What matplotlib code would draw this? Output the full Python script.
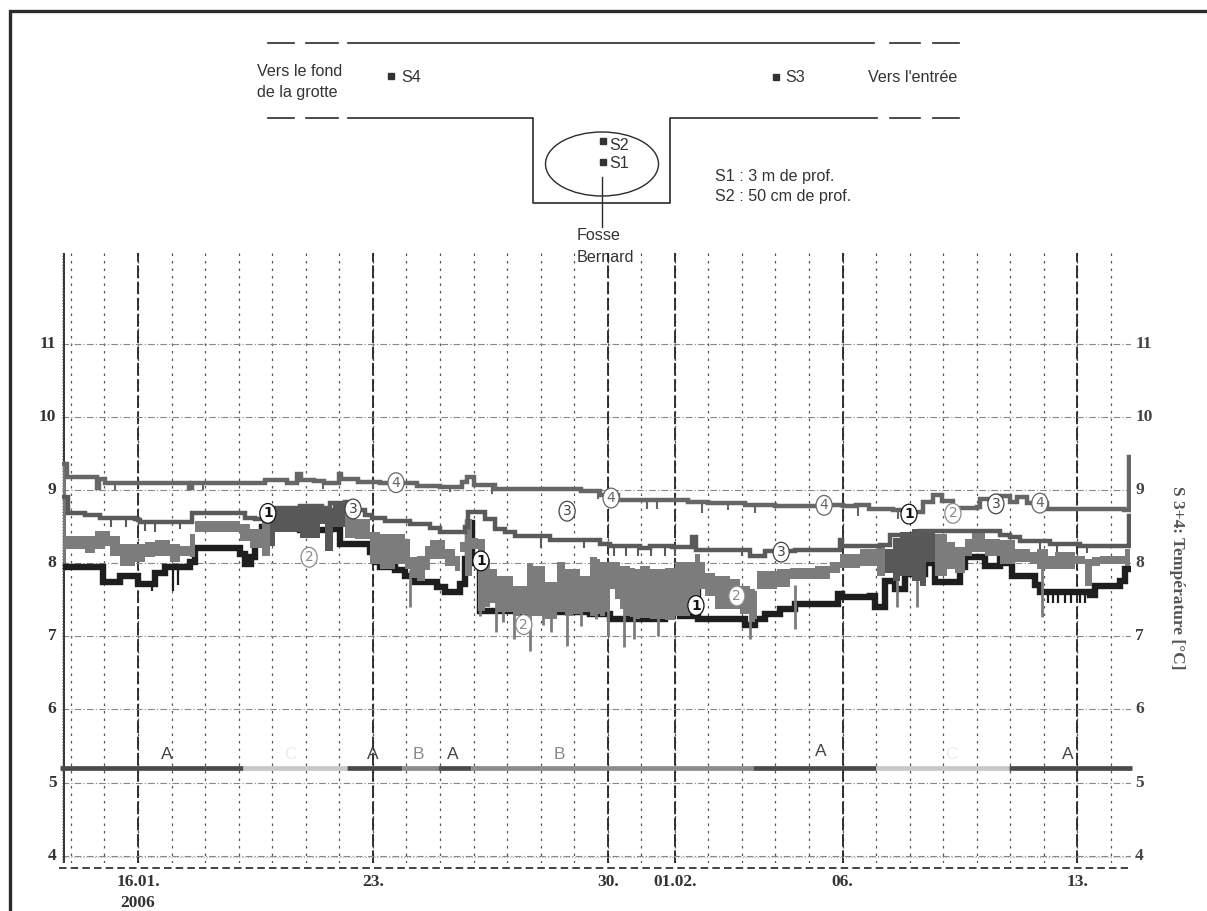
import numpy as np
import matplotlib
matplotlib.use('Agg')
import matplotlib.pyplot as plt
from matplotlib.patches import Ellipse, Rectangle

# days counted from 16.01.2006
t1 = [-2.15, -1.05, -1.04, -0.54, 0.0, 0.51, 0.8, 1.55, 1.7, 3.04, 3.19, 3.37, 3.49, 3.7, 4.83, 5.72, 6.02, 6.91, 7.06, 7.21,
      7.66, 7.96, 8.26, 8.91, 9.15, 9.6, 9.75, 9.84, 9.96, 10.19, 11.39, 12.28, 13.47, 14.07, 15.71, 16.16, 16.55, 16.7, 18.09,
      18.39, 18.69, 19.14, 19.58, 20.86, 20.98, 21.82, 21.97, 22.26, 22.56, 22.86, 23.46, 23.76, 24.5, 24.65, 25.25, 25.69,
      25.84, 26.05, 26.74, 26.88, 28.38, 28.52, 29.27, 29.42, 29.57]
v1 = [7.95, 7.86, 7.74, 7.83, 7.72, 7.86, 7.95, 8.02, 8.2, 8.13, 7.99, 8.08, 8.3, 8.5, 8.45, 8.47, 8.26, 8.15, 8.01, 7.95,
      7.9, 7.83, 7.74, 7.67, 7.6, 7.72, 8.05, 8.55, 8.0, 7.35, 7.33, 7.33, 7.3, 7.23, 7.38, 7.28, 7.7, 7.23, 7.15,
      7.23, 7.3, 7.37, 7.44, 7.58, 7.53, 7.55, 7.4, 7.75, 7.65, 7.85, 8.0, 7.74, 7.95, 8.08, 7.96, 8.08,
      8.0, 7.83, 7.7, 7.6, 7.57, 7.69, 7.75, 7.92, 7.92]
dips1_t = [0.42, 1.05, 1.2, 27.12, 27.27, 27.42, 27.63, 27.81, 28.08, 28.23]
dips1_lo = [7.62, 7.62, 7.7, 7.46, 7.46, 7.46, 7.46, 7.46, 7.46, 7.46]

t2 = [-2.2, -1.58, -1.28, -0.98, -0.83, -0.54, -0.09, 0.21, 0.51, 0.95, 1.25, 1.55, 1.7, 3.04, 3.34, 3.7, 3.93, 4.08, 4.83,
      5.13, 5.42, 5.57, 5.81, 6.17, 6.47, 6.91, 7.21, 7.66, 7.96, 8.11, 8.32, 8.55, 8.7, 9.15, 9.45, 9.6, 9.75, 9.96, 10.13,
      10.34, 10.49, 10.7, 10.94, 11.18, 11.39, 11.59, 11.77, 12.13, 12.49, 12.73, 12.97, 13.17, 13.47, 13.68, 13.77, 13.92,
      14.07, 14.22, 14.37, 14.52, 14.66, 14.81, 14.96, 15.26, 15.71, 16.01, 16.31, 16.45, 16.6, 16.75, 16.9, 17.2, 17.65,
      17.94, 18.24, 18.39, 18.45, 19.05, 19.43, 20.18, 20.63, 20.92, 21.52, 22.03, 22.26, 22.5, 22.71, 23.07, 23.31, 23.49,
      23.76, 24.11, 24.35, 24.65, 24.86, 25.25, 25.69, 26.14, 26.59, 26.8, 27.03, 27.12, 27.33, 27.93, 28.23, 28.44, 28.67,
      29.42, 29.57]
hi2 = [8.37, 8.37, 8.44, 8.44, 8.37, 8.26, 8.26, 8.29, 8.31, 8.26, 8.24, 8.40, 8.58, 8.53, 8.47, 8.58, 8.70, 8.77, 8.79,
       8.76, 8.74, 8.76, 8.85, 8.85, 8.60, 8.42, 8.40, 8.40, 8.33, 8.08, 8.10, 8.24, 8.31, 8.19, 8.10, 8.29, 8.60, 8.35, 8.33,
       8.05, 7.92, 7.83, 7.83, 7.69, 7.69, 7.99, 7.96, 7.74, 8.01, 7.92, 7.92, 7.83, 8.08, 8.05, 8.01, 8.01,
       8.01, 8.01, 7.96, 7.96, 7.94, 7.92, 7.96, 7.92, 7.94, 8.01, 8.01, 8.01, 8.12, 8.01, 7.87, 7.83, 7.78,
       7.69, 7.64, 7.62, 7.89, 7.92, 7.94, 7.96, 8.01, 8.12, 8.19, 8.24, 8.19, 8.35, 8.42, 8.47, 8.47, 8.47,
       8.40, 8.29, 8.22, 8.33, 8.42, 8.33, 8.31, 8.19, 8.15, 8.19, 8.19, 8.10, 8.15, 8.10, 8.05, 8.08, 8.10,
       8.19, 8.19]
lo2 = [8.19, 8.14, 8.19, 8.24, 8.10, 7.96, 8.01, 8.08, 8.10, 8.01, 8.10, 8.08, 8.42, 8.30, 8.20, 8.10, 8.24, 8.42, 8.35,
       8.35, 8.53, 8.17, 8.50, 8.35, 8.33, 7.99, 7.92, 7.99, 7.92, 7.80, 7.75, 7.90, 8.05, 7.96, 7.89, 8.15, 7.83, 8.19, 7.34,
       7.40, 7.45, 7.33, 7.33, 7.28, 7.30, 7.28, 7.28, 7.24, 7.33, 7.28, 7.30, 7.33, 7.28, 7.30, 7.28, 7.33,
       7.64, 7.51, 7.37, 7.28, 7.26, 7.24, 7.25, 7.24, 7.22, 7.28, 7.28, 7.30, 7.55, 7.64, 7.55, 7.37, 7.37,
       7.30, 7.20, 7.24, 7.64, 7.67, 7.78, 7.78, 7.87, 7.94, 7.96, 7.83, 7.87, 7.75, 7.83, 7.75, 7.69, 8.01,
       7.83, 7.92, 7.87, 8.10, 8.15, 8.10, 7.99, 8.01, 7.99, 7.92, 7.92, 7.92, 7.92, 7.99, 7.69, 7.96, 7.99,
       7.96, 7.96]
# narrow downward spikes of curve 2
dips2_t = [8.11, 10.19, 10.67, 10.88, 11.21, 11.68, 12.07, 12.31, 12.79, 13.2, 13.65, 14.0, 14.49, 14.78, 15.5, 18.24, 19.58,
           22.62, 23.22, 26.94]
dips2_lo = [7.40, 7.28, 7.06, 7.19, 6.96, 6.80, 7.16, 7.06, 6.87, 7.14, 7.23, 7.0, 6.85, 6.96, 7.0, 6.96, 7.10,
            7.40, 7.40, 7.26]
dips2_hi = [7.9, 7.6, 7.6, 7.6, 7.5, 7.5, 7.5, 7.5, 7.6, 7.5, 7.5, 7.5, 7.5, 7.5, 7.5, 7.5, 7.7,
            8.0, 8.0, 8.1]

t3 = [-2.2, -2.09, -1.58, -1.13, -0.09, 0.0, 0.06, 1.61, 3.19, 3.49, 3.84, 4.08, 4.83, 5.48, 5.72, 6.17, 6.41, 6.77, 6.97,
      7.36, 8.11, 8.7, 9.0, 9.75, 9.84, 10.34, 10.64, 10.94, 11.24, 12.28, 13.77, 14.07, 14.66, 14.96, 15.26, 15.92, 16.45,
      16.51, 16.63, 18.24, 18.69, 19.58, 20.92, 20.98, 22.12, 22.41, 23.31, 25.69, 25.99, 26.29, 27.18, 28.08, 29.5, 29.55]
v3 = [8.9, 8.68, 8.66, 8.62, 8.61, 8.59, 8.56, 8.68, 8.62, 8.6, 8.62, 8.76, 8.78, 8.76, 8.82, 8.84, 8.72, 8.66, 8.62,
      8.58, 8.53, 8.48, 8.43, 8.5, 8.70, 8.6, 8.47, 8.43, 8.37, 8.31, 8.26, 8.24, 8.24, 8.2, 8.24, 8.22, 8.22,
      8.36, 8.18, 8.10, 8.16, 8.18, 8.32, 8.24, 8.25, 8.38, 8.44, 8.38, 8.36, 8.3, 8.26, 8.24, 8.24, 8.65]
dips3_t = [-0.8, -0.35, 0.2, 0.5, 1.25, 12.0, 13.3, 14.2, 14.55, 14.9, 15.3, 15.7, 16.0, 18.0, 24.9, 26.9, 27.4, 28.3]
dips3_lo = [8.5, 8.5, 8.44, 8.42, 8.46, 8.2, 8.2, 8.1, 8.1, 8.1, 8.1, 8.1, 8.1, 8.1, 8.25, 8.12, 8.14, 8.14]

t4 = [-2.2, -2.12, -1.22, -1.15, -0.98, 1.52, 1.6, 3.79, 4.0, 4.45, 4.75, 4.85, 5.25, 5.55, 5.99, 6.05, 6.55, 7.2, 8.32,
      9.0, 9.66, 9.8, 10.0, 10.64, 11.4, 13.2, 13.77, 14.3, 16.4, 17.0, 18.1, 19.0, 20.5, 21.0, 21.4, 21.8, 22.5, 22.9,
      23.4, 23.7, 23.95, 24.3, 25.0, 25.1, 25.65, 26.0, 26.2, 26.5, 27.1, 29.4, 29.55]
v4 = [9.35, 9.18, 9.03, 9.15, 9.10, 9.03, 9.10, 9.13, 9.14, 9.10, 9.22, 9.14, 9.12, 9.10, 9.22, 9.15, 9.11, 9.09, 9.05,
      9.04, 9.11, 9.18, 9.07, 9.02, 9.01, 8.98, 8.93, 8.86, 8.84, 8.82, 8.80, 8.78, 8.79, 8.78, 8.80, 8.74, 8.72, 8.70,
      8.83, 8.93, 8.85, 8.75, 8.77, 8.88, 8.92, 8.83, 8.90, 8.82, 8.74, 8.72, 9.45]
dips4_t = [-0.7, 1.95, 5.5, 7.0, 9.3, 10.55, 13.7, 15.17, 15.47, 16.8, 17.6, 18.4, 21.46, 22.65]
dips4_lo = [9.0, 9.0, 9.02, 9.02, 8.97, 8.95, 8.87, 8.74, 8.74, 8.68, 8.73, 8.69, 8.65, 8.6]

# numbered curve labels
label_nums = ['1'] * 4 + ['2'] * 4 + ['3'] * 4 + ['4'] * 4
label_t = [3.87, 10.22, 16.63, 22.98, 5.10, 11.5, 17.85, 24.29, 6.41, 12.79, 19.17, 25.57, 7.69, 14.1, 20.45, 26.88]
label_v = [8.68, 8.03, 7.42, 8.67, 8.08, 7.16, 7.55, 8.68, 8.74, 8.71, 8.15, 8.81, 9.10, 8.89, 8.79, 8.82]

# A / B / C periods
period_edges = [-2.32, 3.13, 6.23, 7.87, 8.94, 9.93, 18.33, 22.0, 25.96, 29.63]
period_names = ['A', 'C', 'A', 'B', 'A', 'B', 'A', 'C', 'A']
period_text_t = [0.86, 4.53, 7.0, 8.35, 9.37, 12.55, 20.35, 24.25, 27.7]
period_text_v = [5.38, 5.38, 5.38, 5.38, 5.39, 5.38, 5.43, 5.38, 5.38]
period_colors = {'A': '#4a4a4a', 'B': '#8c8c8c', 'C': '#c8c8c8'}
text_colors = {'A': '#444444', 'B': '#8a8a8a', 'C': '#ececec'}

temp_ticks = [4, 5, 6, 7, 8, 9, 10, 11]
major_days = [0, 7, 14, 16, 21, 28]
major_labels = ['16.01.', '23.', '30.', '01.02.', '06.', '13.']
minor_days = list(range(-2, 30))

W, H = 1207, 911
fig = plt.figure(figsize=(W / 100, H / 100), dpi=100, facecolor='white')

# whole page in pixels for the frame and the cave sketch
bg = fig.add_axes([0, 0, 1, 1])
bg.set_xlim(0, W)
bg.set_ylim(H, 0)
bg.axis('off')
bg.plot([10, 10, W], [H, 11, 11], color='#2a2a2a', lw=2.4, solid_joinstyle='miter')

# cave sketch
sk = '#2a2a2a'
for y in [43, 118]:
    for a, b in [(268, 294), (306, 338), (890, 920), (933, 959)]:
        bg.plot([a, b], [y, y], color=sk, lw=1.2)
bg.plot([348, 874], [43, 43], color=sk, lw=1.2)
bg.plot([348, 533, 533, 670, 670, 877], [118, 118, 203, 203, 118, 118], color=sk, lw=1.2)
bg.add_patch(Ellipse((602, 164), 113, 64, fill=False, ec=sk, lw=1.0))
bg.plot([602, 602], [177, 227], color=sk, lw=1.0)
for x, y in [(391, 76), (776, 77), (603, 141), (603, 162)]:
    bg.add_patch(Rectangle((x - 3, y - 3), 6, 6, color='#333333'))
sketch_text = [(401, 77, 'S4'), (785, 78, 'S3'), (609, 146, 'S2'), (609, 163, 'S1'), (257, 72, 'Vers le fond'),
               (257, 92, 'de la grotte'), (868, 78, "Vers l'entrée"), (715, 176, 'S1 : 3 m de prof.'),
               (715, 197, 'S2 : 50 cm de prof.'), (577, 236, 'Fosse'), (577, 257, 'Bernard')]
for x, y, s in sketch_text:
    bg.text(x, y, s, fontsize=11.6, family='Liberation Sans', color='#333333', va='center', ha='left')

# chart
left, right, top, bottom = 62, 1131, 253, 863
ax = fig.add_axes([left / W, 1 - bottom / H, (right - left) / W, (bottom - top) / H])
ax.patch.set_alpha(0)
ax.set_xlim((left - 138) / 33.55, (right - 138) / 33.55)
ax.set_ylim(3.9, 12.24)
for s in ax.spines.values():
    s.set_visible(False)
ax.set_xticks([])
ax.set_yticks([])

for d in minor_days:
    ax.axvline(d, color='#555555', lw=0.9, ls=(0, (2, 4)), zorder=1)
for d in major_days:
    ax.axvline(d, color='#222222', lw=1.3, ls=(0, (7, 2)), zorder=1)
for v in temp_ticks:
    ax.axhline(v, color='#888888', lw=0.8, ls=(0, (6, 2, 1, 2)), zorder=1)
ax.axvline(ax.get_xlim()[0] + 0.06, color='#333333', lw=1.4, zorder=2)
ax.axvline(ax.get_xlim()[0], color='#999999', lw=0.8, ls=':', zorder=2)
ax.axvline(ax.get_xlim()[1], color='#999999', lw=0.8, ls=':', zorder=2)
ax.axhline(3.98, color='#aaaaaa', lw=0.8, ls=':', zorder=1)
ax.plot([-2.36, 29.5], [3.836, 3.836], color='#222222', lw=1.2, ls=(0, (4.5, 2.5)), clip_on=False)
ax.vlines(-2.2, 7.9, 9.4, color='#777777', lw=2.2, zorder=3)

# curves
ax.step(t1, v1, where='post', color='#1e1e1e', lw=4.6, solid_joinstyle='miter', zorder=3)
ax.vlines(dips1_t, dips1_lo, np.array(v1)[np.searchsorted(t1, dips1_t, side='right') - 1], color='#1e1e1e', lw=1.6, zorder=3)
ax.fill_between(t2, lo2, hi2, step='post', color='#7c7c7c', lw=0, zorder=4)
ax.vlines(dips2_t, dips2_lo, dips2_hi, color='#7c7c7c', lw=2.0, zorder=4)
# darker where curve 2 runs over curve 1
t2a = np.array(t2)
dark = ((t2a >= 3.9) & (t2a < 6.2)) | ((t2a >= 22.2) & (t2a < 23.8))
ax.fill_between(t2, lo2, hi2, where=dark, step='post', color='#585858', lw=0, zorder=4)
ax.step(t3, v3, where='post', color='#5a5a5a', lw=3.2, solid_joinstyle='miter', zorder=5)
ax.vlines(dips3_t, dips3_lo, np.array(v3)[np.searchsorted(t3, dips3_t, side='right') - 1], color='#5a5a5a', lw=1.5, zorder=3)
ax.step(t4, v4, where='post', color='#666666', lw=3.2, solid_joinstyle='miter', zorder=3)
ax.vlines(dips4_t, dips4_lo, np.array(v4)[np.searchsorted(t4, dips4_t, side='right') - 1], color='#666666', lw=1.5, zorder=3)

for n, t, v in zip(label_nums, label_t, label_v):
    c = {'1': '#111111', '2': '#8a8a8a', '3': '#444444', '4': '#666666'}[n]
    ax.add_patch(Ellipse((t, v), 0.48, 0.27, fc='white', ec=c, lw=0.9, zorder=6))
    ax.text(t, v, n, fontsize=10, fontweight='bold' if n == '1' else 'normal', color=c, family='DejaVu Sans',
            ha='center', va='center', zorder=7)

# period bar
for i, name in enumerate(period_names):
    ax.plot(period_edges[i:i + 2], [5.2, 5.2], color=period_colors[name], lw=3.4, solid_capstyle='butt', clip_on=False, zorder=5)
    ax.text(period_text_t[i], period_text_v[i], name, fontsize=12.5, family='Liberation Sans', color=text_colors[name],
            ha='center', va='center', zorder=5)

# tick labels
for v in temp_ticks:
    ax.annotate(str(v), (0, v), xycoords=('axes fraction', 'data'), xytext=(-4, 0), textcoords='offset points',
                fontsize=12.5, family='Liberation Serif', fontweight='bold', color='#333333', ha='right', va='center')
    ax.annotate(str(v), (1, v), xycoords=('axes fraction', 'data'), xytext=(3, 0), textcoords='offset points',
                fontsize=12.5, family='Liberation Serif', fontweight='bold', color='#444444', ha='left', va='center')
for d, s in zip(major_days, major_labels):
    ax.annotate(s, (d, 0), xycoords=('data', 'axes fraction'), xytext=(0, -14), textcoords='offset points',
                fontsize=12.5, family='Liberation Serif', fontweight='bold', color='#333333', ha='center', va='center')
ax.annotate('2006', (0, 0), xycoords=('data', 'axes fraction'), xytext=(0, -28.5), textcoords='offset points',
            fontsize=12.5, family='Liberation Serif', fontweight='bold', color='#333333', ha='center', va='center')
bg.text(1177, 578, 'S 3+4: Température [°C]', rotation=-90, fontsize=12.5, family='Liberation Serif', fontweight='bold',
        color='#555555', ha='center', va='center')

fig.savefig('out.png', dpi=100)
